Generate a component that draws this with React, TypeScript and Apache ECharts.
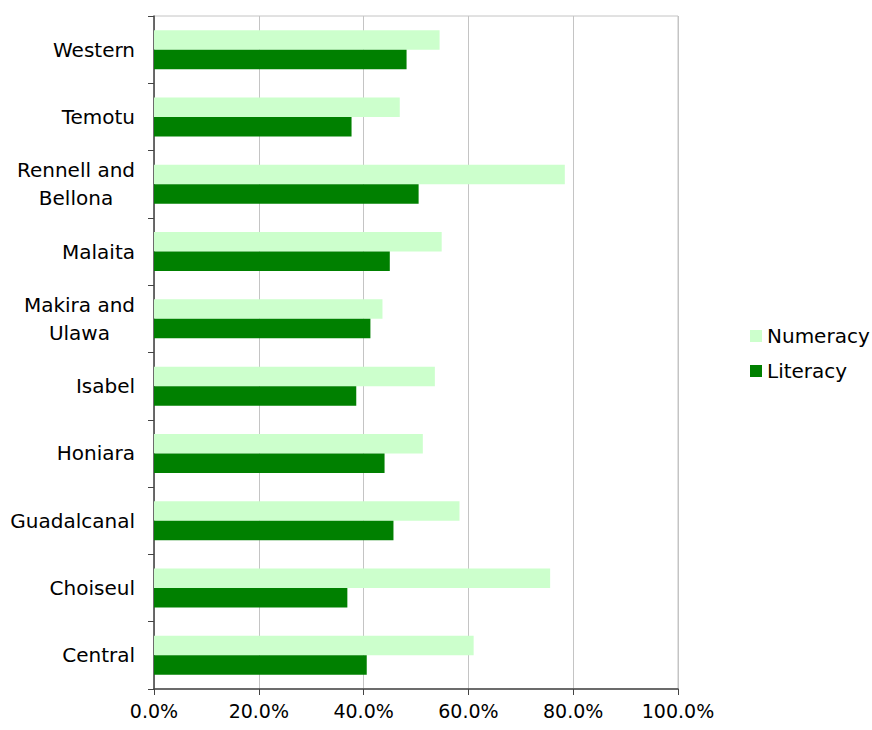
import React, { useEffect, useRef } from "react";
import * as echarts from "echarts";

const categories = [
  "Central",
  "Choiseul",
  "Guadalcanal",
  "Honiara",
  "Isabel",
  "Makira and Ulawa",
  "Malaita",
  "Rennell and Bellona",
  "Temotu",
  "Western",
];
const numeracy = [61.0, 75.6, 58.3, 51.3, 53.6, 43.6, 54.9, 78.4, 46.9, 54.5];
const literacy = [40.6, 36.9, 45.7, 44.0, 38.6, 41.3, 45.0, 50.5, 37.7, 48.2];
const xTicks = [0, 20, 40, 60, 80, 100];

const FONT = "DejaVu Sans";

export default function App() {
  const ref = useRef<HTMLDivElement>(null);
  useEffect(() => {
    document.body.style.margin = "0";
    if (!ref.current) return;
    const chart = echarts.init(ref.current, null, { renderer: "svg" });
    chart.setOption({
      animation: false,
      backgroundColor: "#ffffff",
      textStyle: { fontFamily: FONT },
      grid: {
        left: 154,
        right: 194,
        top: 16,
        bottom: 41,
        containLabel: false,
        show: true,
        borderColor: "#c4c4c4",
        borderWidth: 1,
      },
      legend: {
        orient: "vertical",
        left: 745,
        top: 321,
        data: ["Numeracy", "Literacy"],
        icon: "rect",
        itemWidth: 12,
        itemHeight: 12,
        itemGap: 15,
        textStyle: { fontSize: 20, color: "#000", fontFamily: FONT },
      },
      xAxis: {
        type: "value",
        min: xTicks[0],
        max: xTicks[xTicks.length - 1],
        interval: xTicks[1] - xTicks[0],
        axisLine: { show: true, lineStyle: { color: "#444", width: 1.5 } },
        axisTick: { show: true, length: 6, lineStyle: { color: "#444" } },
        splitLine: { show: true, lineStyle: { color: "#c4c4c4", width: 1 } },
        axisLabel: {
          fontSize: 19,
          color: "#000",
          margin: 12,
          fontFamily: FONT,
          formatter: (v: number) => v.toFixed(1) + "%",
        },
      },
      yAxis: {
        type: "category",
        data: categories,
        axisLine: { show: true, lineStyle: { color: "#444", width: 1.5 } },
        axisTick: { show: true, length: 6, alignWithLabel: false, lineStyle: { color: "#444" } },
        splitLine: { show: false },
        axisLabel: {
          fontSize: 20,
          color: "#000",
          margin: 19,
          lineHeight: 28,
          fontFamily: FONT,
          formatter: (v: string) =>
            v
              .replace(" and ", " and\n")
              .split("\n")
              .map((l) => `{c|${l}}`)
              .join("\n"),
          rich: {
            c: {
              fontSize: 20,
              color: "#000",
              lineHeight: 28,
              align: "center",
              fontFamily: FONT,
            },
          },
        },
      },
      series: [
        {
          name: "Numeracy",
          type: "bar",
          data: numeracy,
          itemStyle: { color: "#ccffcc" },
          barGap: "0%",
          barCategoryGap: "42%",
        },
        {
          name: "Literacy",
          type: "bar",
          data: literacy,
          itemStyle: { color: "#008000" },
          barGap: "0%",
          barCategoryGap: "42%",
        },
      ],
    });
    return () => chart.dispose();
  }, []);
  return <div ref={ref} style={{ width: 872, height: 730 }} />;
}
